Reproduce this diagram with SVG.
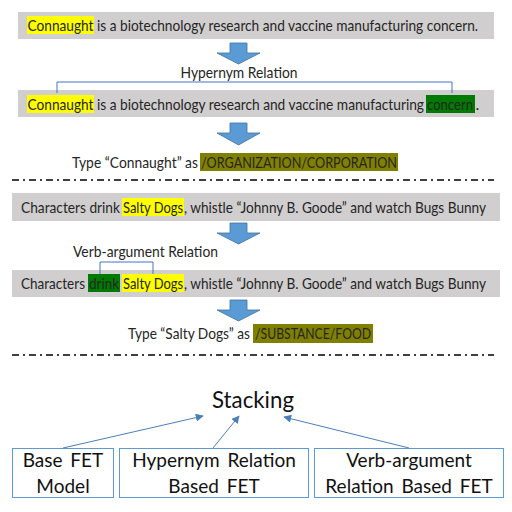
<svg xmlns="http://www.w3.org/2000/svg" width="512" height="512" viewBox="0 0 512 512">
<style>
.t{font-family:Lato,"Noto Sans",sans-serif;font-size:16px;fill:#262626}
.b{fill:#D0CECE}
.y{fill:#FFFF00}
.g{fill:#007A00}
.o{fill:#808000}
.ba{fill:#5B9BD5;stroke:#41719C;stroke-width:0.8}
.sep{stroke:#000;stroke-width:1.5;stroke-dasharray:7 4 2 4;fill:none}
.br{stroke:#4472C4;stroke-width:1;fill:none}
.box{fill:#fff;stroke:#5B9BD5;stroke-width:1}
.bt{font-family:Lato,"Noto Sans",sans-serif;font-size:19px;fill:#111;text-anchor:middle;word-spacing:3px}
.con{stroke:#4A7EBB;stroke-width:1;fill:none;marker-end:url(#ah)}
</style>
<defs>
<marker id="ah" viewBox="0 0 10 10" refX="9" refY="5" markerWidth="8" markerHeight="8" markerUnits="userSpaceOnUse" orient="auto">
<path d="M0,0 L10,5 L0,10 Z" fill="#4A7EBB"/>
</marker>
</defs>
<rect width="512" height="512" fill="#fff"/>

<g id="sentence1">
<rect class="b" x="18" y="12" width="476" height="27"/>
<rect class="y" x="27" y="16" width="67" height="18"/>
<text class="t" x="27.5" y="30.5" textLength="66" lengthAdjust="spacingAndGlyphs">Connaught</text>
<text class="t" x="97" y="30.5" textLength="381" lengthAdjust="spacingAndGlyphs">is a biotechnology research and vaccine manufacturing concern.</text>
</g>

<g id="arrow1"><path class="ba" d="M230,43 H247 V53 H260 L238.5,64 L217,53 H230 Z"/></g>

<g id="hypernym-label">
<text class="t" x="239" y="78" text-anchor="middle" textLength="117" lengthAdjust="spacingAndGlyphs">Hypernym Relation</text>
</g>

<g id="sentence2">
<rect class="b" x="18" y="90" width="476" height="27"/>
<rect class="y" x="27" y="95" width="67" height="18"/>
<rect class="g" x="426" y="95" width="49" height="18"/>
<text class="t" x="27.5" y="109.5" textLength="66" lengthAdjust="spacingAndGlyphs">Connaught</text>
<text class="t" x="97" y="109.5" textLength="327" lengthAdjust="spacingAndGlyphs">is a biotechnology research and vaccine manufacturing</text>
<text class="t" x="427" y="109.5" textLength="46" lengthAdjust="spacingAndGlyphs">concern</text>
<text class="t" x="475.5" y="109.5">.</text>
</g>

<g id="arrow2"><path class="ba" d="M230,123 H247 V133 H260 L238.5,145 L217,133 H230 Z"/></g>

<g id="type1">
<rect class="o" x="200" y="153" width="198" height="18"/>
<text class="t" x="72" y="167.5" textLength="126" lengthAdjust="spacingAndGlyphs">Type “Connaught” as</text>
<text class="t" x="201" y="167.5" textLength="196" lengthAdjust="spacingAndGlyphs">/ORGANIZATION/CORPORATION</text>
</g>

<g id="sentence3">
<rect class="b" x="12" y="193" width="488" height="28"/>
<rect class="y" x="122" y="198" width="62" height="18"/>
<text class="t" x="21" y="212.5" textLength="99" lengthAdjust="spacingAndGlyphs">Characters drink</text>
<text class="t" x="123" y="212.5" textLength="60" lengthAdjust="spacingAndGlyphs">Salty Dogs</text>
<text class="t" x="184" y="212.5" textLength="302" lengthAdjust="spacingAndGlyphs">, whistle “Johnny B. Goode” and watch Bugs Bunny</text>
</g>

<g id="arrow3"><path class="ba" d="M230,223 H247 V233 H260 L238.5,244 L217,233 H230 Z"/></g>

<g id="verbarg-label">
<text class="t" x="73" y="257" textLength="145" lengthAdjust="spacingAndGlyphs">Verb-argument Relation</text>
</g>

<g id="sentence4">
<rect class="b" x="12" y="270" width="488" height="27"/>
<rect class="g" x="88" y="274" width="32" height="18"/>
<rect class="y" x="122" y="274" width="62" height="18"/>
<text class="t" x="21" y="288.5" textLength="64" lengthAdjust="spacingAndGlyphs">Characters</text>
<text class="t" x="89" y="288.5" textLength="30" lengthAdjust="spacingAndGlyphs">drink</text>
<text class="t" x="123" y="288.5" textLength="60" lengthAdjust="spacingAndGlyphs">Salty Dogs</text>
<text class="t" x="184" y="288.5" textLength="302" lengthAdjust="spacingAndGlyphs">, whistle “Johnny B. Goode” and watch Bugs Bunny</text>
</g>

<g id="arrow4"><path class="ba" d="M230,300 H247 V310 H260 L238.5,321 L217,310 H230 Z"/></g>

<g id="type2">
<rect class="o" x="253" y="324" width="120" height="19"/>
<text class="t" x="128" y="339" textLength="122" lengthAdjust="spacingAndGlyphs">Type “Salty Dogs” as</text>
<text class="t" x="255" y="339" textLength="116" lengthAdjust="spacingAndGlyphs">/SUBSTANCE/FOOD</text>
</g>

<g id="separators">
<line class="sep" x1="12" y1="180" x2="494" y2="180"/>
<line class="sep" x1="12" y1="355" x2="494" y2="355"/>
</g>

<g id="stacking">
<text x="253" y="408" text-anchor="middle" font-family="Lato,'Noto Sans',sans-serif" font-size="23" fill="#111" textLength="82" lengthAdjust="spacingAndGlyphs">Stacking</text>
</g>

<g id="base-fet">
<rect class="box" x="12.5" y="448.5" width="101" height="49"/>
<text class="bt" x="63" y="467">Base FET</text>
<text class="bt" x="63" y="493">Model</text>
</g>

<g id="hypernym-fet">
<rect class="box" x="119.5" y="448.5" width="189" height="49"/>
<text class="bt" x="214" y="467">Hypernym Relation</text>
<text class="bt" x="214" y="493">Based FET</text>
</g>

<g id="verbarg-fet">
<rect class="box" x="314.5" y="448.5" width="189" height="49"/>
<text class="bt" x="409" y="467">Verb-argument</text>
<text class="bt" x="409" y="493">Relation Based FET</text>
</g>

<g id="connectors">
<path class="br" d="M57,93 V82 H452 V93"/>
<path class="br" d="M100,274 V262 H153 V274"/>
<line class="con" x1="63" y1="448" x2="203" y2="416"/>
<line class="con" x1="213" y1="448" x2="239" y2="416"/>
<line class="con" x1="409" y1="448" x2="284" y2="417"/>
</g>
</svg>
